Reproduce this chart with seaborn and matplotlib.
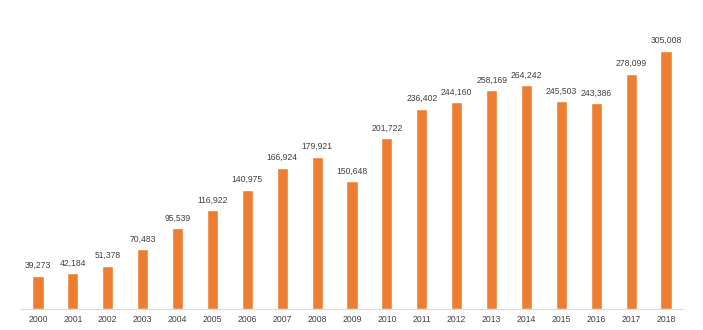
import matplotlib
matplotlib.use("Agg")
import matplotlib.pyplot as plt
import seaborn as sns
import pandas as pd

years = [str(y) for y in range(2000, 2019)]
values = [39273, 42184, 51378, 70483, 95539, 116922, 140975, 166924, 179921, 150648,
          201722, 236402, 244160, 258169, 264242, 245503, 243386, 278099, 305008]

df = pd.DataFrame({"year": years, "value": values})

sns.set_theme(style="white")
plt.rcParams['font.family'] = ['Liberation Sans', 'DejaVu Sans']

fig = plt.figure(figsize=(7.03, 3.30), dpi=100)
ax = fig.add_axes([20.5/703, 21/330, 663/703, 1 - 21/330])
sns.barplot(data=df, x="year", y="value", color="#ED7D31", saturation=1, width=0.32, ax=ax)
ax.set_xlim(-0.5, len(years) - 0.5)
ax.set_ylim(0, 365000)
for c in ax.containers:
    ax.bar_label(c, labels=[f"{v:,}" for v in values], padding=4, fontsize=6.2, color="#404040")
ax.set_xlabel("")
ax.set_ylabel("")
ax.set_yticks([])
for s in ["top", "right", "left"]:
    ax.spines[s].set_visible(False)
ax.spines["bottom"].set_color("#D9D9D9")
ax.spines["bottom"].set_linewidth(0.8)
ax.tick_params(axis="x", length=0, pad=4, labelsize=6.2, labelcolor="#404040")
fig.savefig("out.png", dpi=100)
